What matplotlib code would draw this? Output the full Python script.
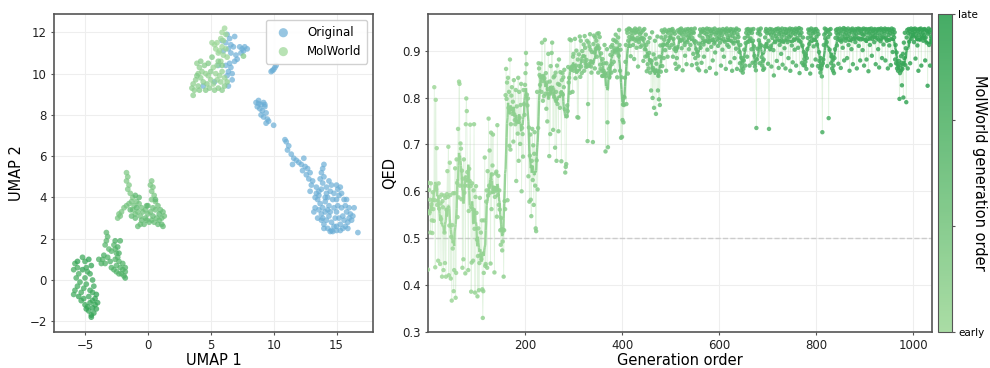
import numpy as np
import pandas as pd
import matplotlib
matplotlib.use("Agg")
import matplotlib.pyplot as plt
from matplotlib.colors import LinearSegmentedColormap, Normalize
from matplotlib.collections import LineCollection
from matplotlib.cm import ScalarMappable

# UMAP coordinates of the original set
orig_xy = [
    (6.3, 11.9), (6.5, 11.7), (6.2, 11.5), (6.6, 11.4), (6.4, 11.2), (6.8, 11.3), (6.0, 11.1), (6.6, 11.0),
    (7.3, 11.3), (7.5, 11.2), (7.7, 11.3), (7.9, 11.2), (7.4, 11.0), (7.6, 11.1), (7.1, 10.7), (6.9, 10.6),
    (6.5, 10.5), (6.6, 10.3), (6.4, 10.1), (6.7, 10.0), (6.3, 9.9), (6.7, 9.7), (6.4, 9.4), (5.6, 10.4),
    (5.3, 9.6), (4.4, 9.4), (5.9, 11.6), (6.9, 11.8), (7.0, 10.9), (6.2, 10.4),
    (9.8, 10.1), (10.0, 10.2), (10.1, 10.3), (10.2, 10.4), (9.9, 10.15),
    (8.6, 8.6), (8.8, 8.7), (9.0, 8.5), (9.2, 8.6), (9.3, 8.4), (8.9, 8.3), (9.1, 8.2), (9.4, 8.1),
    (9.2, 7.9), (9.5, 7.8), (9.4, 7.6), (8.7, 8.4), (9.0, 8.0), (9.6, 7.7), (10.0, 7.5), (9.3, 8.5), (8.8, 8.55),
    (10.9, 6.8), (11.0, 6.7), (11.2, 6.5), (11.1, 6.3), (11.4, 6.1), (11.6, 5.9), (11.8, 5.8), (11.5, 5.6),
    (12.0, 5.7), (12.2, 5.6), (12.4, 5.9), (12.5, 5.5), (12.7, 5.4), (12.3, 5.3), (12.6, 5.1), (12.9, 5.2),
    (12.8, 4.9), (13.1, 4.8), (13.0, 4.6), (13.4, 4.5), (13.6, 4.3), (13.8, 4.4), (13.9, 4.7), (13.7, 4.9),
    (14.0, 5.0), (13.8, 5.2), (13.9, 5.4), (14.0, 5.6), (13.6, 4.1), (13.5, 3.9), (13.7, 3.7), (13.9, 3.5),
    (14.1, 3.8), (14.3, 4.0), (14.2, 4.2), (14.5, 4.3), (14.4, 3.6), (14.1, 3.3), (13.8, 3.2), (13.6, 3.4),
    (13.3, 3.5), (13.2, 3.3), (13.5, 3.0), (13.8, 2.9), (14.0, 2.7), (14.2, 2.9), (14.4, 3.1), (14.6, 2.8),
    (14.8, 2.6), (14.6, 2.4), (15.0, 2.4), (15.3, 2.4), (15.5, 2.5), (15.7, 2.6), (15.9, 2.8), (16.0, 3.0),
    (16.2, 2.9), (16.1, 3.2), (15.8, 3.3), (15.5, 3.1), (15.2, 3.0), (15.0, 3.3), (15.1, 3.6), (15.0, 3.9),
    (15.2, 4.1), (15.1, 4.4), (15.3, 4.5), (15.0, 4.6), (15.4, 4.2), (15.6, 3.9), (15.7, 3.6), (15.4, 3.5),
    (14.8, 3.5), (14.7, 3.9), (14.8, 4.2), (14.6, 4.6), (14.4, 4.8), (14.2, 4.5), (14.9, 3.0), (15.3, 2.7),
    (14.3, 2.5), (14.5, 2.35), (14.7, 2.35), (13.9, 3.0), (14.0, 2.5), (16.7, 2.3), (16.4, 3.5), (16.0, 3.5),
    (15.6, 2.9), (13.3, 4.0), (12.9, 4.3), (14.3, 3.4), (14.5, 3.3), (13.4, 4.2), (14.1, 4.0), (15.8, 3.9),
    (16.3, 3.1), (15.9, 2.5), (15.0, 2.6),
]

# UMAP coordinates of MolWorld molecules, listed in generation order
molworld_xy = [
    (6.1, 12.2), (5.9, 12.0), (6.2, 11.9), (5.8, 11.7), (6.0, 11.6), (5.5, 11.5), (5.3, 11.4), (5.1, 11.5),
    (5.4, 11.2), (5.7, 11.1), (5.9, 11.3), (6.2, 11.2), (5.6, 11.0), (6.0, 10.9), (6.3, 10.8), (5.8, 10.6),
    (5.5, 10.4), (5.2, 10.3), (5.4, 10.0), (5.7, 9.9), (5.9, 10.1), (6.1, 9.8), (5.8, 9.6), (5.5, 9.7),
    (5.2, 9.5), (5.0, 9.7), (4.8, 9.9), (4.6, 10.0), (4.3, 10.1), (4.1, 10.3), (3.9, 10.5), (4.0, 10.0),
    (4.2, 9.8), (3.8, 9.7), (3.6, 9.5), (3.5, 9.3), (3.7, 9.2), (3.6, 8.95), (4.0, 9.4), (4.4, 9.6),
    (4.7, 9.5), (4.9, 9.3), (5.3, 9.2), (5.6, 9.3), (5.9, 9.2), (6.1, 9.4), (6.3, 9.6), (4.5, 10.4),
    (4.2, 10.6), (5.0, 10.1), (5.6, 10.6), (4.6, 9.2), (4.1, 9.2), (3.9, 9.9), (7.6, 10.85), (5.9, 10.4),
    (5.1, 10.8), (4.8, 10.5),
    (-1.7, 5.2), (-1.6, 5.0), (-1.7, 4.8), (-1.5, 4.6), (-1.6, 4.4), (-1.4, 4.2), (-1.2, 4.0),
    (0.3, 4.8), (0.2, 4.6), (0.4, 4.5), (0.3, 4.3), (0.5, 4.1), (0.3, 3.9), (0.6, 3.8),
    (-2.4, 3.0), (-2.3, 3.2), (-2.1, 3.3), (-1.9, 3.5), (-1.7, 3.6), (-2.2, 3.1),
    (-1.5, 3.7), (-1.3, 3.8), (-1.1, 3.6), (-0.9, 3.8), (-0.7, 3.7), (-0.5, 3.5), (-1.2, 3.4), (-1.0, 3.2),
    (-0.8, 3.3), (-0.6, 3.1), (-0.4, 3.3), (-0.2, 3.4), (0.0, 3.2), (0.2, 3.3), (0.4, 3.5), (0.6, 3.4),
    (0.8, 3.6), (1.0, 3.4), (1.2, 3.3), (1.3, 3.1), (1.1, 3.0), (0.9, 2.9), (0.7, 3.0), (0.5, 2.8),
    (0.3, 2.9), (0.1, 2.8), (-0.1, 2.9), (-0.3, 2.7), (-0.6, 2.7), (-0.8, 2.6), (-0.5, 2.9), (-1.0, 3.0),
    (-1.3, 3.1), (-0.2, 3.0), (0.8, 2.7), (1.1, 2.7), (1.2, 2.6), (0.4, 3.1), (-0.9, 3.5), (-1.4, 3.4),
    (0.0, 3.6), (0.6, 3.9), (0.9, 3.2), (-0.1, 3.6), (-0.7, 4.0), (-1.0, 4.1),
    (-3.3, 2.3), (-3.2, 2.1), (-3.3, 1.9), (-3.4, 1.7), (-3.1, 1.5), (-2.9, 1.4), (-2.7, 1.7), (-2.6, 1.5),
    (-2.5, 1.3), (-2.4, 1.1), (-2.6, 1.0), (-2.3, 0.9), (-2.5, 0.7), (-2.2, 0.6), (-2.0, 0.5), (-1.8, 0.4),
    (-2.1, 0.3), (-1.9, 0.2), (-2.3, 0.3), (-2.5, 0.4), (-2.7, 0.5), (-2.0, 0.8), (-1.8, 0.6), (-3.6, 1.0),
    (-3.4, 0.8), (-3.2, 1.1), (-3.0, 0.9), (-2.9, 0.6), (-3.7, 0.8), (-3.9, 1.0), (-2.4, 1.6), (-2.2, 1.9),
    (-2.6, 1.9), (-2.3, 1.3), (-3.5, 1.2), (-1.8, 0.1),
    (-5.8, 0.8), (-5.6, 0.6), (-5.9, 0.5), (-5.5, 0.3), (-5.7, 0.1), (-5.4, -0.1), (-5.6, -0.3), (-5.8, -0.5),
    (-5.9, -0.7), (-5.3, -0.6), (-5.1, -0.4), (-4.9, -0.2), (-5.0, 0.1), (-4.8, 0.4), (-5.2, 1.1), (-5.0, 0.9),
    (-4.9, 0.6), (-4.6, 0.3), (-4.4, 0.0), (-4.3, -0.3), (-4.6, -0.5), (-4.4, -0.6), (-4.7, -0.8), (-5.1, -0.9),
    (-5.3, -1.0), (-5.0, -1.2), (-4.8, -1.3), (-4.6, -1.1), (-4.4, -1.0), (-4.2, -1.2), (-4.1, -1.4), (-4.3, -1.6),
    (-4.5, -1.7), (-4.7, -1.5), (-4.9, -1.4), (-4.2, -0.9), (-4.0, -1.1), (-5.5, -0.8), (-5.2, 0.5), (-4.5, 0.7),
    (-4.7, 1.0), (-4.5, -1.8), (-4.4, -1.35), (-5.6, 0.9), (-4.1, -0.7),
]

# QED of each generated molecule (x 1000), in generation order
qed_permille = [
    433, 618, 603, 553, 582, 512, 617, 572, 538, 511, 598, 562, 537, 822, 581, 438, 795, 604, 692, 571,
    580, 452, 617, 563, 588, 445, 574, 541, 593, 418, 579, 566, 432, 591, 512, 447, 586, 418, 561, 594,
    643, 588, 695, 421, 527, 661, 592, 414, 503, 367, 528, 478, 596, 387, 432, 596, 649, 373, 426, 668,
    618, 545, 733, 587, 834, 829, 612, 702, 691, 583, 644, 437, 627, 455, 668, 597, 612, 425, 743, 798,
    771, 641, 612, 432, 558, 648, 622, 742, 611, 386, 448, 617, 562, 452, 602, 743, 520, 384, 588, 611,
    554, 497, 376, 462, 521, 389, 447, 586, 463, 512, 455, 538, 391, 330, 387, 426, 538, 672, 441, 445,
    578, 602, 437, 643, 591, 755, 612, 687, 597, 446, 725, 562, 636, 655, 721, 598, 604, 427, 588, 603,
    638, 642, 546, 741, 592, 633, 571, 602, 561, 517, 486, 543, 519, 474, 493, 518, 418, 517, 579, 562,
    805, 861, 797, 832, 581, 842, 778, 812, 697, 881, 689, 743, 804, 822, 765, 791, 706, 837, 764, 752,
    743, 816, 622, 781, 749, 723, 842, 665, 812, 757, 701, 784, 829, 600, 735, 722, 674, 816, 786, 763,
    827, 852, 895, 871, 806, 783, 798, 632, 736, 578, 676, 721, 582, 547, 665, 733, 624, 698, 571, 680,
    726, 612, 521, 515, 666, 812, 604, 735, 873, 862, 848, 827, 844, 872, 812, 917, 835, 793, 846, 803,
    841, 923, 808, 852, 776, 832, 749, 818, 893, 807, 675, 834, 722, 867, 818, 895, 917, 808, 731, 843,
    801, 846, 693, 853, 812, 665, 868, 786, 829, 728, 881, 827, 778, 854, 810, 664, 837, 852, 806, 843,
    822, 859, 775, 640, 652, 658, 760, 783, 771, 865, 832, 842, 924, 810, 862, 922, 859, 866, 812, 887,
    893, 857, 864, 925, 841, 868, 900, 856, 758, 881, 757, 892, 867, 930, 844, 921, 866, 852, 899, 878,
    888, 913, 857, 931, 906, 872, 865, 880, 921, 707, 786, 917, 871, 909, 935, 902, 866, 853, 897, 876,
    705, 914, 932, 896, 862, 928, 903, 921, 887, 936, 911, 853, 937, 905, 929, 870, 861, 894, 857, 846,
    882, 846, 857, 873, 912, 852, 685, 846, 873, 903, 747, 694, 852, 861, 844, 867, 891, 908, 853, 871,
    912, 898, 923, 876, 905, 857, 921, 934, 896, 918, 843, 902, 928, 889, 944, 912, 857, 902, 714, 843,
    716, 752, 785, 747, 784, 800, 842, 876, 912, 786, 944, 938, 851, 921, 947, 929, 946, 910, 888, 938,
    943, 931, 926, 912, 943, 882, 938, 947, 921, 939, 906, 944, 927, 866, 940, 918, 947, 935, 908, 926,
    939, 911, 927, 943, 878, 925, 946, 903, 887, 934, 912, 856, 889, 871, 918, 862, 895, 927, 853, 878,
    815, 878, 939, 799, 863, 892, 778, 856, 921, 883, 765, 872, 857, 930, 815, 846, 796, 887, 784, 911,
    855, 928, 943, 867, 912, 939, 884, 923, 945, 901, 930, 857, 941, 912, 887, 938, 921, 944, 906, 928,
    931, 944, 912, 938, 946, 887, 925, 941, 903, 936, 872, 899, 861, 884, 907, 943, 928, 866, 939, 945,
    921, 938, 947, 905, 934, 858, 943, 926, 940, 912, 889, 945, 933, 871, 941, 918, 946, 929, 903, 937,
    944, 912, 935, 946, 869, 927, 940, 893, 938, 921, 947, 884, 919, 903, 872, 896, 862, 889, 915, 858,
    932, 945, 906, 939, 874, 941, 927, 946, 913, 887, 938, 944, 921, 856, 935, 947, 902, 929, 940, 918,
    946, 863, 931, 942, 908, 937, 945, 879, 924, 940, 915, 947, 896, 934, 851, 939, 926, 944, 910, 937,
    929, 945, 917, 938, 868, 942, 933, 902, 946, 925, 887, 940, 919, 944, 861, 936, 947, 912, 928, 941,
    908, 943, 932, 875, 946, 921, 939, 857, 931, 945, 915, 938, 884, 926, 943, 904, 947, 861, 935, 919,
    929, 944, 897, 873, 912, 858, 885, 866, 874, 853, 861, 879, 902, 927, 868, 916, 938, 945, 887, 931,
    946, 919, 937, 868, 942, 926, 945, 903, 938, 874, 921, 946, 909, 889, 866, 873, 858, 735, 881, 904,
    937, 945, 922, 941, 873, 934, 947, 911, 886, 868, 877, 859, 881, 862, 909, 928, 941, 946, 914, 937,
    943, 872, 921, 733, 938, 946, 909, 934, 866, 945, 927, 940, 901, 847, 936, 944, 918, 931, 946, 878,
    926, 941, 947, 863, 935, 912, 944, 938, 893, 929, 947, 870, 921, 940, 934, 905, 946, 862, 938, 927,
    945, 918, 936, 884, 943, 929, 947, 857, 932, 940, 911, 946, 875, 938, 924, 944, 902, 935, 947, 868,
    941, 927, 945, 906, 938, 948, 852, 933, 919, 946, 938, 874, 911, 928, 869, 897, 882, 868, 876, 891,
    861, 884, 903, 927, 945, 938, 914, 944, 851, 932, 947, 926, 868, 941, 937, 909, 945, 923, 939, 881,
    946, 930, 913, 942, 867, 935, 897, 878, 862, 853, 884, 868, 845, 726, 873, 881, 912, 934, 947, 926,
    938, 945, 918, 867, 941, 929, 756, 944, 902, 935, 946, 873, 887, 862, 879, 857, 868, 852, 884, 903,
    927, 944, 938, 911, 946, 933, 872, 940, 925, 947, 937, 863, 919, 945, 930, 906, 941, 948, 879, 934,
    946, 921, 938, 944, 884, 930, 947, 912, 936, 857, 942, 928, 945, 903, 939, 947, 871, 925, 943, 933,
    941, 918, 946, 935, 862, 944, 927, 947, 910, 938, 946, 879, 924, 941, 936, 945, 901, 933, 947, 868,
    935, 944, 922, 946, 881, 939, 928, 945, 856, 937, 946, 912, 940, 931, 947, 889, 925, 942, 936, 944,
    918, 946, 933, 871, 941, 927, 945, 938, 903, 946, 864, 932, 944, 920, 947, 938, 884, 929, 945, 913,
    942, 936, 947, 879, 928, 945, 921, 940, 862, 946, 933, 911, 944, 938, 869, 925, 947, 941, 897, 934,
    945, 928, 939, 881, 912, 873, 896, 862, 871, 857, 865, 878, 797, 852, 869, 888, 874, 826, 861, 893,
    800, 917, 884, 938, 869, 905, 790, 928, 944, 862, 937, 946, 919, 941, 873, 934, 947, 925, 944, 938,
    931, 946, 918, 940, 947, 883, 936, 928, 945, 911, 942, 857, 933, 946, 924, 939, 947, 868, 930, 944,
    937, 921, 945, 934, 946, 879, 928, 943, 917, 941, 825, 936, 947, 912, 939, 868, 944, 930, 925, 918,
]

greens = LinearSegmentedColormap.from_list("gen", ["#a1d99b", "#31a354"])
blue = "#6baed6"
spine_col = "#555555"

fig = plt.figure(figsize=(9.9, 3.68), dpi=100)
ax1 = fig.add_axes([0.0545, 0.0978, 0.3225, 0.8641])
ax2 = fig.add_axes([0.4323, 0.0978, 0.5091, 0.8641])
cax = fig.add_axes([0.9475, 0.0978, 0.0141, 0.8641])

for ax in (ax1, ax2):
    ax.grid(True, color="#eeeeee", lw=0.8)
    ax.set_axisbelow(True)
    for s in ax.spines.values():
        s.set_color(spine_col)
        s.set_linewidth(1.2)
    ax.tick_params(colors="#222222", labelsize=8.5, length=2.5, pad=2.5, color=spine_col)

# left: UMAP
ox, oy = np.array(orig_xy).T
mx, my = np.array(molworld_xy).T
ax1.scatter(ox, oy, s=17, color=blue, alpha=0.7, edgecolors="none", label="Original")
ax1.scatter(mx, my, s=17, c=np.arange(len(mx)), cmap=greens, alpha=0.75,
            edgecolors="none", label="MolWorld")
ax1.set_xlim(-7.47, 17.92)
ax1.set_ylim(-2.52, 12.89)
ax1.set_xticks([-5, 0, 5, 10, 15])
ax1.set_yticks([-2, 0, 2, 4, 6, 8, 10, 12])
ax1.set_xlabel("UMAP 1", fontsize=10.5, labelpad=1)
ax1.set_ylabel("UMAP 2", fontsize=10.5, labelpad=4)
leg = ax1.legend(loc="upper right", fontsize=8.5, markerscale=1.6, framealpha=0.9,
                 handletextpad=1.0, borderpad=0.5)
leg.get_frame().set_edgecolor("#cccccc")

# right: QED over generation order
qed = np.array(qed_permille) / 1000.0
gen = np.arange(len(qed))
norm = Normalize(0, len(qed) - 1)
roll = pd.Series(qed).rolling(10, center=True, min_periods=1).mean().values

ax2.axhline(0.5, color="#cccccc", ls="--", lw=1, zorder=1)
ax2.plot(gen, qed, color="#a1d99b", lw=0.6, alpha=0.3, zorder=2)
ax2.scatter(gen, qed, s=10, c=gen, cmap=greens, norm=norm, alpha=0.85,
            edgecolors="none", zorder=3)
pts = np.column_stack([gen, roll]).reshape(-1, 1, 2)
segs = np.concatenate([pts[:-1], pts[1:]], axis=1)
lc = LineCollection(segs, cmap=greens, norm=norm, lw=1.7, alpha=0.9, zorder=4)
lc.set_array(gen[:-1])
ax2.add_collection(lc)
ax2.set_xlim(0, len(qed) - 1)
ax2.set_ylim(0.3, 0.978)
ax2.set_xticks([200, 400, 600, 800, 1000])
ax2.set_yticks([0.3, 0.4, 0.5, 0.6, 0.7, 0.8, 0.9])
ax2.set_xlabel("Generation order", fontsize=10.5, labelpad=1)
ax2.set_ylabel("QED", fontsize=10.5, labelpad=4)

cb = fig.colorbar(ScalarMappable(norm=norm, cmap=greens), cax=cax)
n = len(qed) - 1
cb.set_ticks([0, n / 3, 2 * n / 3, n])
cb.set_ticklabels(["early", "", "", "late"])
cb.ax.tick_params(labelsize=7.5, length=2.5, pad=2, color=spine_col)
cb.outline.set_edgecolor(spine_col)
cb.solids.set_alpha(0.9)
cb.set_label("MolWorld generation order", rotation=270, fontsize=10.5, va="center")
cb.ax.yaxis.set_label_coords(2.95, 0.5)

fig.savefig("out.png", dpi=100)
